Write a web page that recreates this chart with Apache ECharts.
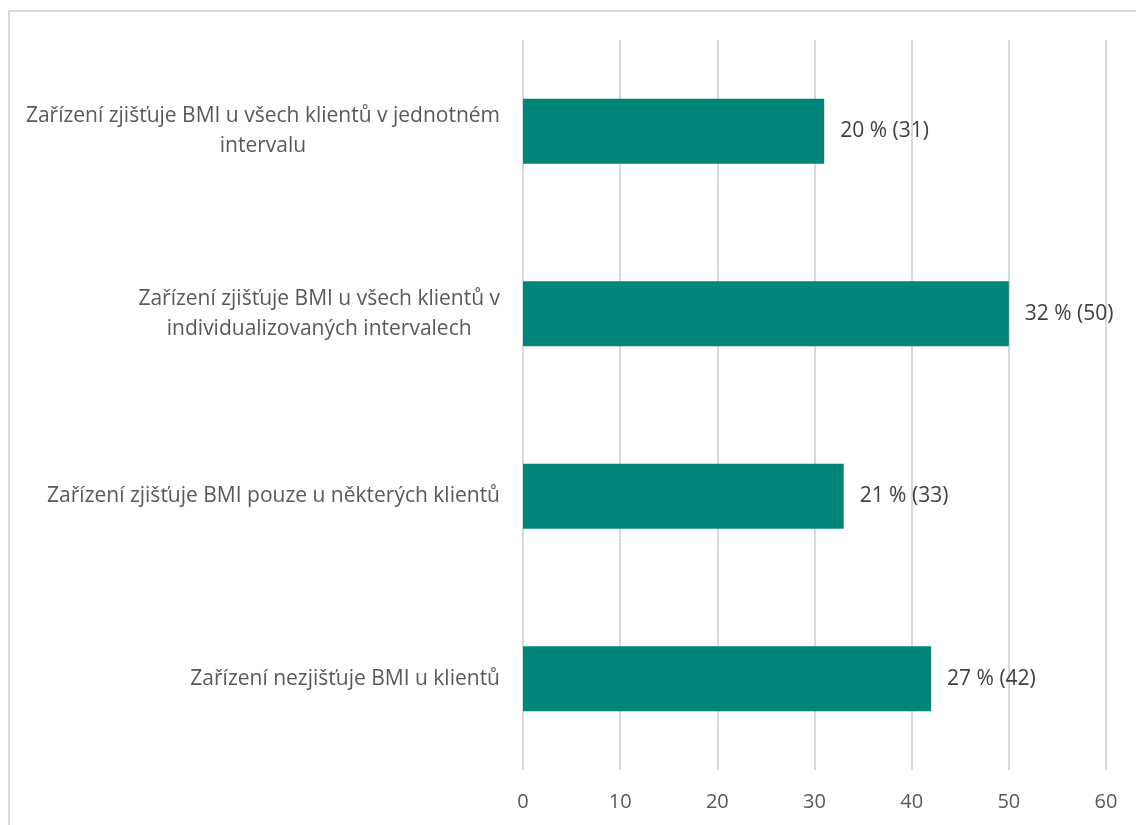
<!DOCTYPE html>
<html><head><meta charset="utf-8">
<script src="https://cdn.jsdelivr.net/npm/echarts@6/dist/echarts.min.js"></script>
<style>
html,body{margin:0;padding:0;background:#fff;}
#frame{position:absolute;left:8px;top:10px;width:1140px;height:830px;border:2px solid #d9d9d9;box-sizing:border-box;}
#c{position:absolute;left:0;top:0;width:1136px;height:825px;}
</style></head>
<body><div id="frame"></div><div id="c"></div>
<script>
const categories = [
  "Zařízení zjišťuje BMI u všech klientů v jednotném\nintervalu",
  "Zařízení zjišťuje BMI u všech klientů v\nindividualizovaných intervalech",
  "Zařízení zjišťuje BMI pouze u některých klientů",
  "Zařízení nezjišťuje BMI u klientů"
];
const counts = [31, 50, 33, 42];
const percents = [20, 32, 21, 27];
const xTicks = [0, 10, 20, 30, 40, 50, 60];

const FONT = '"Open Sans"';
const chart = echarts.init(document.getElementById('c'), null, {renderer: 'canvas'});
chart.setOption({
  backgroundColor: 'transparent',
  animation: false,
  grid: {left: 523, right: 30, top: 40, bottom: 55, containLabel: false},
  xAxis: {
    type: 'value', min: xTicks[0], max: xTicks[xTicks.length - 1], interval: 10,
    axisLine: {show: false}, axisTick: {show: false},
    splitLine: {show: true, lineStyle: {color: '#d9d9d9', width: 2}},
    axisLabel: {color: '#595959', fontSize: 20, fontFamily: FONT, margin: 22}
  },
  yAxis: {
    type: 'category', data: categories, inverse: true,
    axisLine: {show: false}, axisTick: {show: false},
    axisLabel: {
      margin: 23, align: 'right', color: '#595959', fontSize: 21, fontFamily: FONT,
      lineHeight: 30,
      formatter: function (v) { return v.split('\n').map(function (l) { return '{c|' + l + '}'; }).join('\n'); },
      rich: {c: {align: 'center', color: '#595959', fontSize: 21, fontFamily: FONT, lineHeight: 30}}
    }
  },
  series: [{
    type: 'bar', data: counts, barWidth: 65,
    itemStyle: {color: '#00857a'},
    label: {
      show: true, position: 'right', distance: 16, color: '#404040', fontSize: 21, fontFamily: FONT,
      formatter: function (p) { return percents[p.dataIndex] + ' % (' + p.value + ')'; }
    }
  }]
});
</script></body></html>
